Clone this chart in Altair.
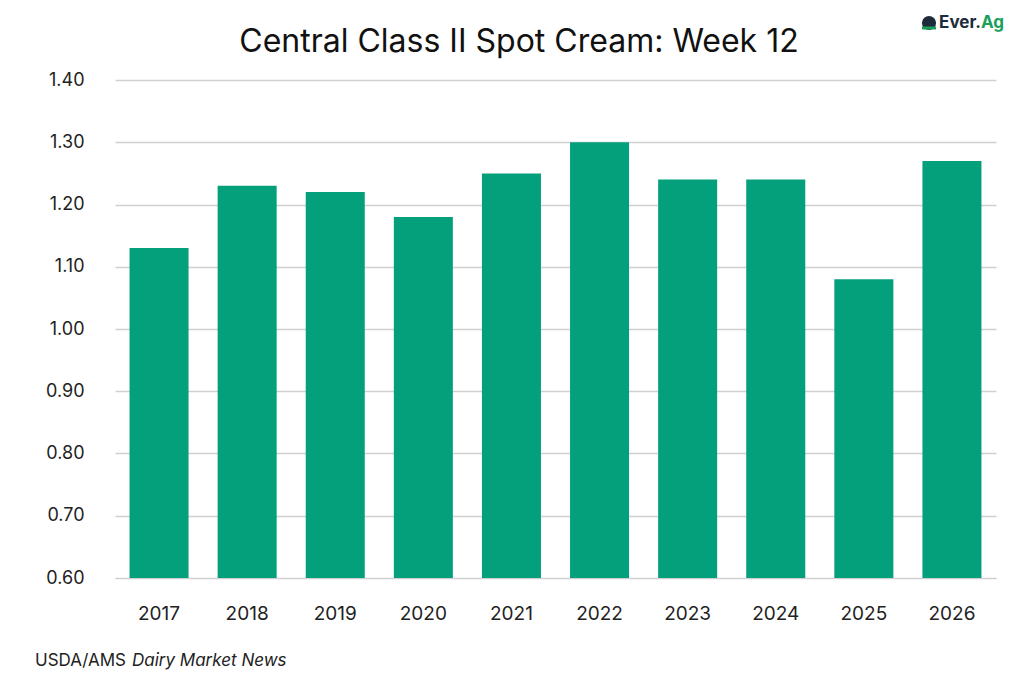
import altair as alt
import pandas as pd

years = ["2017", "2018", "2019", "2020", "2021", "2022", "2023", "2024", "2025", "2026"]
values = [1.13, 1.23, 1.22, 1.18, 1.25, 1.30, 1.24, 1.24, 1.08, 1.27]
y_ticks = [0.6, 0.7, 0.8, 0.9, 1.0, 1.1, 1.2, 1.3, 1.4]

title_text = "Central Class II Spot Cream: Week 12"
source_plain = "USDA/AMS"
source_italic = "Dairy Market News"

df = pd.DataFrame({"year": years, "value": values})
one = pd.DataFrame({"k": [0]})

FONT = "Inter"
GREEN = "#04A07C"
W, H = 881, 498
X0, Y0 = 115, 80  # plot origin in page pixels

bars = alt.Chart(df).mark_bar(color=GREEN).encode(
    x=alt.X("year:N", sort=years,
            scale=alt.Scale(paddingInner=0.33, paddingOuter=0.165),
            axis=alt.Axis(title=None, labelAngle=0, labelFontSize=19, labelFont=FONT,
                          labelColor="#222222", ticks=False, domain=True,
                          domainColor="#d0d0d0", labelPadding=26)),
    y=alt.Y("value:Q", scale=alt.Scale(domain=[0.6, 1.4], zero=False, nice=False),
            axis=alt.Axis(title=None, values=y_ticks, format=".2f", labelFontSize=18,
                          labelFont=FONT, labelColor="#222222", ticks=False, domain=False,
                          gridColor="#d0d0d0", gridWidth=1.5, labelPadding=31)),
    y2=alt.datum(0.6),
)


def txt(s, x, y, size, align="left", color="#222222", weight="normal", style="normal"):
    return alt.Chart(one).mark_text(align=align, baseline="middle", fontSize=size, font=FONT,
                                    fontWeight=weight, fontStyle=style, color=color).encode(
        x=alt.value(x - X0), y=alt.value(y - Y0), text=alt.value(s))


title = txt(title_text, 519, 42, 32, align="center", color="#111111")
src1 = txt(source_plain, 35, 661, 17)
src2 = txt(source_italic, 132, 661, 17, style="italic")
logo1 = txt("Ever.", 981, 23, 17, align="right", color="#1d2b3a", weight="bold")
logo2 = txt("Ag", 981, 23, 17, color="#1aa05a", weight="bold")
logo_icon = alt.Chart(one).mark_point(shape="circle", filled=True, size=200, opacity=1,
                                      color="#1d2b3a").encode(
    x=alt.value(929 - X0), y=alt.value(23 - Y0))
logo_stripe = alt.Chart(one).mark_rule(color="#1aa05a", strokeWidth=3).encode(
    x=alt.value(922 - X0), x2=alt.value(936 - X0), y=alt.value(28 - Y0))

chart = alt.layer(bars, title, src1, src2, logo_icon, logo_stripe, logo1, logo2).properties(
    width=W, height=H,
    autosize=alt.AutoSizeParams(type="none"),
    padding={"left": X0 - 8, "top": Y0 - 8, "right": 20, "bottom": 95},
).configure_view(stroke=None)

chart.save("out.html", embed_options={"renderer": "svg", "actions": False})
